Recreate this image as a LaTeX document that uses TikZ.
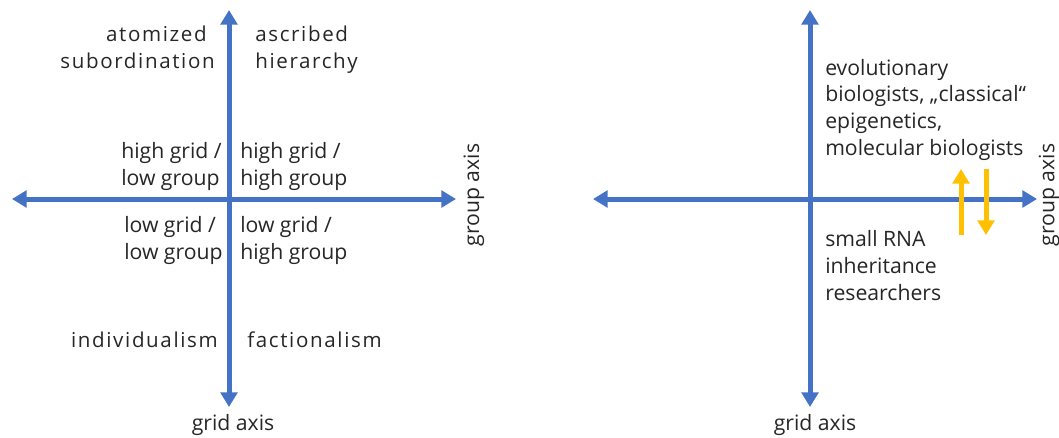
\documentclass[tikz,border=0pt]{standalone}
\usepackage{fontspec}
\setmainfont{Open Sans}
\usetikzlibrary{arrows.meta}
\definecolor{axisblue}{HTML}{4472C4}
\definecolor{arrowgold}{HTML}{FFC000}
\definecolor{txt}{HTML}{262626}
\begin{document}
\begin{tikzpicture}[x=0.75pt,y=-0.75pt,
  axisline/.style={draw=axisblue,line width=3.75pt,{Triangle[width=12.5pt,length=11pt]}-{Triangle[width=12.5pt,length=11pt]}},
  goldarrow/.style={draw=arrowgold,line width=3.75pt,-{Triangle[width=12.5pt,length=11pt]}},
  lbl/.style={inner sep=0pt,text=txt,font=\fontsize{15.9}{20}\selectfont,align=left},
  qlbl/.style={inner sep=0pt,text=txt,font=\fontsize{15.4}{20}\selectfont\addfontfeature{LetterSpace=8}},
]
\useasboundingbox (0,0) rectangle (1059,437);
% ---------- left diagram ----------
\coordinate (Lc) at (229,199);
\coordinate (Lt) at (229,10);
\coordinate (Lb) at (229,407);
\coordinate (Ll) at (12,199);
\coordinate (Lr) at (456,199);
\draw[axisline] (Ll) -- (Lr);
\draw[axisline] (Lb) -- (Lt);

\node[qlbl,align=right,anchor=base east] (atom) at (215,68.5) {atomized\hspace*{6pt}\\subordination};
\node[qlbl,align=left,anchor=base west] (ascr) at (255,68.5) {ascribed\\hierarchy};
\node[lbl,anchor=base west] (hglg) at (121,185) {high grid /\\low group};
\node[lbl,anchor=base west] (hghg) at (240,185) {high grid /\\high group};
\node[lbl,anchor=base west] (lglg) at (124,259) {low grid /\\low group};
\node[lbl,anchor=base west] (lghg) at (240,259) {low grid /\\high group};
\node[qlbl,anchor=base east] (indiv) at (218,347) {individualism};
\node[qlbl,anchor=base west] (fact) at (247,347) {factionalism};
\node[lbl,anchor=base] (Lgrid) at (233,430) {grid axis};
\node[lbl,rotate=90] (Lgroup) at (474,195) {group axis};

% ---------- right diagram ----------
\coordinate (Rc) at (810,199);
\coordinate (Rt) at (810,10);
\coordinate (Rb) at (810,407);
\coordinate (Rl) at (593,199);
\coordinate (Rr) at (1037,199);
\draw[axisline] (Rl) -- (Rr);
\draw[axisline] (Rb) -- (Rt);

\node[lbl,anchor=base west] (evo) at (825,155) {evolutionary\\biologists, „classical“\\epigenetics,\\molecular biologists};
\node[lbl,anchor=base west] (rna) at (825,300) {small RNA\\inheritance\\researchers};
\node[lbl,anchor=base] (Rgrid) at (815,430) {grid axis};
\node[lbl,rotate=90] (Rgroup) at (1049,195) {group axis};

\coordinate (u1) at (961,235);
\coordinate (u2) at (961,169);
\coordinate (d1) at (986,169);
\coordinate (d2) at (986,235);
\draw[goldarrow] (u1) -- (u2);
\draw[goldarrow] (d1) -- (d2);
\end{tikzpicture}
\end{document}
